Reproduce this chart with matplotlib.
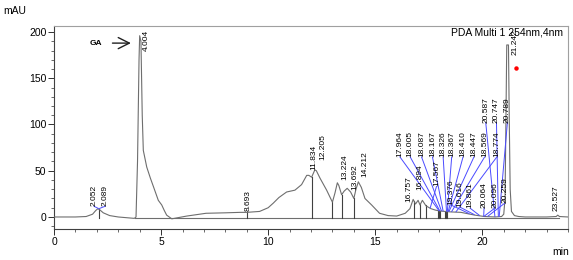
import numpy as np
import matplotlib
matplotlib.use("Agg")
import matplotlib.pyplot as plt

plt.rcParams['font.family'] = ['Liberation Sans', 'DejaVu Sans']

# ---- chromatogram trace (time in min, absorbance in mAU)
trace_t = [0, 1.0, 1.5, 1.8, 1.95, 2.05, 2.15, 2.3, 2.6, 3.0, 3.5, 3.75, 3.83,
           3.9, 3.97, 4.0, 4.06, 4.12, 4.17, 4.33, 4.5, 4.64, 4.87, 5.03, 5.15,
           5.26, 5.5, 6.2, 7.1, 8.0, 8.7, 9.0, 9.6, 10.0, 10.24, 10.5, 10.86,
           11.25, 11.56, 11.8, 11.9, 12.03, 12.18, 12.25, 12.42, 12.73, 13.0,
           13.12, 13.23, 13.3, 13.43, 13.55, 13.69, 13.85, 14.0, 14.1, 14.21,
           14.35, 14.52, 14.83, 15.2, 15.6, 16.0, 16.4, 16.62, 16.77, 16.88,
           17.0, 17.09, 17.2, 17.37, 17.6, 17.8, 18.0, 18.5, 19.0, 19.65, 20.1,
           20.6, 20.9, 21.0, 21.06, 21.1, 21.14, 21.22, 21.26, 21.3, 21.36,
           21.5, 21.7, 22.0, 23.0, 23.45, 23.52, 23.6, 24.0]
trace_v = [0, 0, 0.5, 3, 7, 9, 7.5, 4.5, 1.5, 0, -1, -1.5, 0,
           60, 170, 196, 190, 110, 72, 54, 42, 33, 18, 13, 7,
           2, -2, 1, 4, 4.5, 5, 5, 6, 10, 15, 21, 27,
           29, 35, 45, 45, 43, 51, 50, 42, 29, 16,
           26, 37, 34, 24, 28, 31, 27, 20, 30, 38,
           32, 20, 13, 4, 1.5, 1, 4, 9, 19, 14,
           18, 13, 18, 12, 9, 7.5, 6.5, 5.5, 5, 2, 0.5,
           0, 0.5, 3, 20, 100, 186, 186, 100, 30, 6,
           1.5, 0.5, 0, 0, 0.5, 2, 0.5, 0]

# ---- peak labels (retention time strings) and their text anchor (min, mAU)
peak_labels = ['2.052', '2.089', '4.004', '8.693', '11.834', '12.205', '13.224',
               '13.692', '14.212', '16.757', '16.894', '17.567', '17.964',
               '18.005', '18.087', '18.167', '18.326', '18.367', '18.410',
               '18.447', '18.569', '18.774', '19.376', '19.616', '19.861',
               '20.064', '20.096', '20.259', '20.587', '20.747', '20.789',
               '21.242', '23.527']
label_t = [1.87, 2.38, 4.29, 9.07, 12.15, 12.57, 13.58, 14.05, 14.51, 16.57,
           17.08, 17.86, 16.15, 16.63, 17.16, 17.67, 18.17, 18.57, 19.1,
           19.61, 20.11, 20.68, 18.53, 18.97, 19.43, 20.08, 20.58, 21.05,
           20.16, 20.66, 21.17, 21.51, 23.43]
label_v = [11.5, 11.5, 180, 6.5, 51, 62, 40, 29, 43.5, 16.5, 29, 33,
           65, 65, 65, 65, 65, 65, 65, 65, 65, 65,
           13, 10.5, 9.5, 9.5, 9.5, 15, 102, 102, 102, 175, 6.5]
leader = [True, True, False, False, False, False, False, False, False, False,
          False, True, True, True, True, True, True, True, True, True, True,
          True, True, True, True, True, True, True, True, True, True, False,
          False]

# ---- integration drop lines (min)
drop_t = [2.08, 9.02, 12.03, 13.0, 13.43, 14.0, 16.8, 17.08, 17.35, 17.93,
          17.98, 18.04, 18.24, 18.29, 18.35]
baseline_v = -1.0

# ---- axis ticks
x_major = [0, 5, 10, 15, 20]
y_major = [0, 50, 100, 150, 200]

fig = plt.figure(figsize=(5.73, 2.60), dpi=100)
ax = fig.add_axes([54 / 573, 1 - 229 / 260, (568 - 54) / 573, (229 - 26) / 260])

tt = np.array(trace_t, float)
tv = np.array(trace_v, float)
gray = '#6e6e6e'
ax.plot(tt, tv, color=gray, lw=0.8, zorder=3)
ax.plot([3.8, 23.6], [baseline_v, baseline_v], color=gray, lw=0.8, zorder=2)

for d in drop_t:
    ax.plot([d, d], [baseline_v, np.interp(d, tt, tv)], color='#404040',
            lw=0.8, zorder=2)

for lab, lt, lv, ld in zip(peak_labels, label_t, label_v, leader):
    pt = float(lab)
    if ld:
        ax.plot([lt, pt], [lv, np.interp(pt, tt, tv) + 0.5], color='#4a4aff',
                lw=0.7, zorder=4)
    ax.text(lt, lv, lab, rotation=90, ha='center', va='bottom', fontsize=6,
            color='black', zorder=5)

ax.plot([21.55], [161], 'o', color='red', ms=2.2, zorder=6)

ax.annotate('', xy=(3.72, 188), xytext=(2.6, 188),
            arrowprops=dict(arrowstyle='->,head_length=0.8,head_width=0.4',
                            color='#202020', lw=1.0, mutation_scale=10))
ax.text(1.96, 188, 'GA', fontsize=6, fontweight='bold', ha='center',
        va='center')

ax.text(0.99, 0.995, 'PDA Multi 1 254nm,4nm', transform=ax.transAxes,
        ha='right', va='top', fontsize=7.5, zorder=7)

ax.set_xlim(0, 24.0)
ax.set_ylim(-13, 206.5)
ax.set_xticks(x_major)
ax.set_yticks(y_major)
ax.set_xticks(np.arange(0, 24.01, 1), minor=True)
ax.set_yticks(np.arange(-10, 201, 10), minor=True)
ax.tick_params(axis='both', which='major', direction='out', length=4,
               width=0.7, labelsize=7.5, colors='#303030', labelcolor='black',
               pad=1.5)
ax.tick_params(axis='both', which='minor', direction='out', length=2.5,
               width=0.6, colors='#505050')
for side in ['top', 'right']:
    ax.spines[side].set_color('#a0a0a0')
    ax.spines[side].set_linewidth(0.8)
for side in ['left', 'bottom']:
    ax.spines[side].set_color('#404040')
    ax.spines[side].set_linewidth(0.8)

fig.text(3 / 573, 1 - 11 / 260, 'mAU', fontsize=7.5, ha='left', va='center')
fig.text(552 / 573, 1 - 252 / 260, 'min', fontsize=7.5, ha='left',
         va='center')

fig.savefig('out.png', dpi=100)
